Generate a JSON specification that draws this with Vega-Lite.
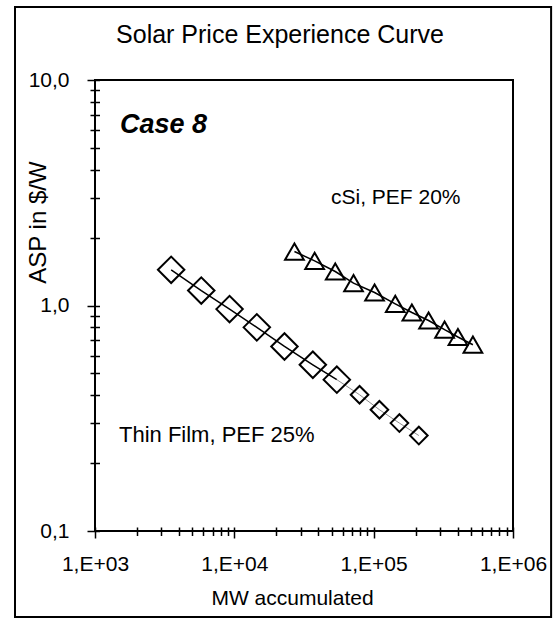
{
  "$schema": "https://vega.github.io/schema/vega-lite/v6.json",
  "width": 418,
  "height": 451,
  "autosize": "none",
  "padding": {"left": 95, "top": 80, "right": 45, "bottom": 90},
  "background": "white",
  "title": {
    "text": "Solar Price Experience Curve",
    "font": "Liberation Sans",
    "fontSize": 25,
    "fontWeight": "normal",
    "color": "black",
    "anchor": "middle",
    "frame": "group",
    "offset": 0,
    "dx": -24,
    "dy": 42
  },
  "config": {
    "view": {"stroke": "black", "strokeWidth": 2},
    "axis": {
      "grid": false,
      "domain": false,
      "tickColor": "black",
      "labelColor": "black",
      "titleColor": "black",
      "labelFont": "Liberation Sans",
      "titleFont": "Liberation Sans",
      "titleFontWeight": "normal"
    }
  },
  "data": {
    "values": [
      {"tech": "Thin Film", "phase": "actual", "mw": 3520, "asp": 1.44},
      {"tech": "Thin Film", "phase": "actual", "mw": 5790, "asp": 1.165},
      {"tech": "Thin Film", "phase": "actual", "mw": 9240, "asp": 0.964},
      {"tech": "Thin Film", "phase": "actual", "mw": 14500, "asp": 0.8},
      {"tech": "Thin Film", "phase": "actual", "mw": 22900, "asp": 0.658},
      {"tech": "Thin Film", "phase": "actual", "mw": 36600, "asp": 0.546},
      {"tech": "Thin Film", "phase": "actual", "mw": 54400, "asp": 0.469},
      {"tech": "Thin Film", "phase": "forecast", "mw": 79200, "asp": 0.402},
      {"tech": "Thin Film", "phase": "forecast", "mw": 110000, "asp": 0.345},
      {"tech": "Thin Film", "phase": "forecast", "mw": 153000, "asp": 0.301},
      {"tech": "Thin Film", "phase": "forecast", "mw": 211000, "asp": 0.265},
      {"tech": "cSi", "phase": "actual", "mw": 27000, "asp": 1.735},
      {"tech": "cSi", "phase": "actual", "mw": 37700, "asp": 1.578},
      {"tech": "cSi", "phase": "actual", "mw": 53000, "asp": 1.415},
      {"tech": "cSi", "phase": "actual", "mw": 71700, "asp": 1.257},
      {"tech": "cSi", "phase": "actual", "mw": 101500, "asp": 1.142},
      {"tech": "cSi", "phase": "actual", "mw": 142900, "asp": 1.017},
      {"tech": "cSi", "phase": "actual", "mw": 188000, "asp": 0.931},
      {"tech": "cSi", "phase": "actual", "mw": 247800, "asp": 0.858},
      {"tech": "cSi", "phase": "actual", "mw": 322800, "asp": 0.781},
      {"tech": "cSi", "phase": "actual", "mw": 402500, "asp": 0.725},
      {"tech": "cSi", "phase": "actual", "mw": 515500, "asp": 0.67}
    ]
  },
  "layer": [
    {
      "encoding": {
        "x": {
          "field": "mw",
          "type": "quantitative",
          "scale": {"type": "log", "domain": [1000, 1000000], "nice": false},
          "axis": {
            "orient": "bottom",
            "offset": -4,
            "values": [1000, 2000, 3000, 4000, 5000, 6000, 7000, 8000, 9000, 10000, 20000, 30000, 40000, 50000, 60000, 70000, 80000, 90000, 100000, 200000, 300000, 400000, 500000, 600000, 700000, 800000, 900000, 1000000],
            "labelExpr": "datum.value == 1000 ? '1,E+03' : datum.value == 10000 ? '1,E+04' : datum.value == 100000 ? '1,E+05' : datum.value == 1000000 ? '1,E+06' : ''",
            "labelFontSize": 21,
            "labelPadding": 15,
            "labelOverlap": false,
            "labelFlush": false,
            "tickSize": {"condition": {"test": "indexof([1000, 10000, 100000, 1000000], datum.value) >= 0", "value": 11}, "value": 8.5},
            "tickWidth": 1.5,
            "title": "MW accumulated",
            "titleFontSize": 21,
            "titleX": 197,
            "titleY": 71,
            "titleAlign": "center",
            "titleBaseline": "middle"
          }
        },
        "y": {
          "field": "asp",
          "type": "quantitative",
          "scale": {"type": "log", "domain": [0.1, 10], "nice": false},
          "axis": {
            "orient": "left",
            "offset": -4.5,
            "values": [0.1, 0.2, 0.3, 0.4, 0.5, 0.6, 0.7, 0.8, 0.9, 1, 2, 3, 4, 5, 6, 7, 8, 9, 10],
            "labelExpr": "datum.value == 10 ? '10,0' : datum.value == 1 ? '1,0' : datum.value == 0.1 ? '0,1' : ''",
            "labelFontSize": 21,
            "labelPadding": 18,
            "labelOverlap": false,
            "labelFlush": false,
            "tickSize": {"condition": {"test": "datum.value == 0.1 || datum.value == 1 || datum.value == 10", "value": 12.5}, "value": 9.5},
            "tickWidth": 1.5,
            "title": "ASP in $/W",
            "titleFontSize": 24,
            "titleAngle": 270,
            "titleAlign": "center",
            "titleBaseline": "middle",
            "titleX": -61,
            "titleY": 142
          }
        }
      },
      "layer": [
        {
          "transform": [{"filter": "datum.tech == 'Thin Film' && datum.phase == 'actual'"}],
          "mark": {"type": "line", "color": "black", "strokeWidth": 1.5}
        },
        {
          "transform": [{"filter": "datum.tech == 'Thin Film' && datum.mw >= 54400"}],
          "mark": {"type": "line", "color": "#8c8c8c", "strokeWidth": 1}
        },
        {
          "transform": [{"filter": "datum.tech == 'cSi'"}],
          "mark": {"type": "line", "color": "black", "strokeWidth": 1.5}
        },
        {
          "transform": [{"filter": "datum.tech == 'Thin Film' && datum.phase == 'actual'"}],
          "mark": {"type": "point", "shape": "diamond", "size": 700, "filled": false, "stroke": "black", "strokeWidth": 2, "opacity": 1}
        },
        {
          "transform": [{"filter": "datum.tech == 'Thin Film' && datum.phase == 'forecast'"}],
          "mark": {"type": "point", "shape": "diamond", "size": 310, "filled": false, "stroke": "black", "strokeWidth": 2, "opacity": 1}
        },
        {
          "transform": [{"filter": "datum.tech == 'cSi'"}],
          "mark": {"type": "point", "shape": "triangle-up", "size": 350, "filled": false, "stroke": "black", "strokeWidth": 2, "opacity": 1}
        }
      ]
    },
    {
      "data": {"values": [{"label": "Case 8"}]},
      "mark": {"type": "text", "align": "left", "baseline": "middle", "font": "Liberation Sans", "color": "black", "fontSize": 27, "fontWeight": "bold", "fontStyle": "italic"},
      "encoding": {
        "x": {"datum": 1512, "type": "quantitative", "scale": {"type": "log", "domain": [1000, 1000000], "nice": false}},
        "y": {"datum": 6.3, "type": "quantitative", "scale": {"type": "log", "domain": [0.1, 10], "nice": false}},
        "text": {"field": "label", "type": "nominal"}
      }
    },
    {
      "data": {"values": [{"label": "cSi, PEF 20%"}]},
      "mark": {"type": "text", "align": "left", "baseline": "middle", "font": "Liberation Sans", "color": "black", "fontSize": 21},
      "encoding": {
        "x": {"datum": 49400, "type": "quantitative", "scale": {"type": "log", "domain": [1000, 1000000], "nice": false}},
        "y": {"datum": 3.0, "type": "quantitative", "scale": {"type": "log", "domain": [0.1, 10], "nice": false}},
        "text": {"field": "label", "type": "nominal"}
      }
    },
    {
      "data": {"values": [{"label": "Thin Film, PEF 25%"}]},
      "mark": {"type": "text", "align": "left", "baseline": "middle", "font": "Liberation Sans", "color": "black", "fontSize": 22},
      "encoding": {
        "x": {"datum": 1486, "type": "quantitative", "scale": {"type": "log", "domain": [1000, 1000000], "nice": false}},
        "y": {"datum": 0.267, "type": "quantitative", "scale": {"type": "log", "domain": [0.1, 10], "nice": false}},
        "text": {"field": "label", "type": "nominal"}
      }
    },
    {
      "data": {"values": [{}]},
      "mark": {"type": "rect", "fill": "transparent", "stroke": "black", "strokeWidth": 2},
      "encoding": {
        "x": {"datum": 266.6, "type": "quantitative", "scale": {"type": "log", "domain": [1000, 1000000], "nice": false}},
        "x2": {"datum": 1877000},
        "y": {"datum": 21.07, "type": "quantitative", "scale": {"type": "log", "domain": [0.1, 10], "nice": false}},
        "y2": {"datum": 0.04155}
      }
    }
  ]
}
